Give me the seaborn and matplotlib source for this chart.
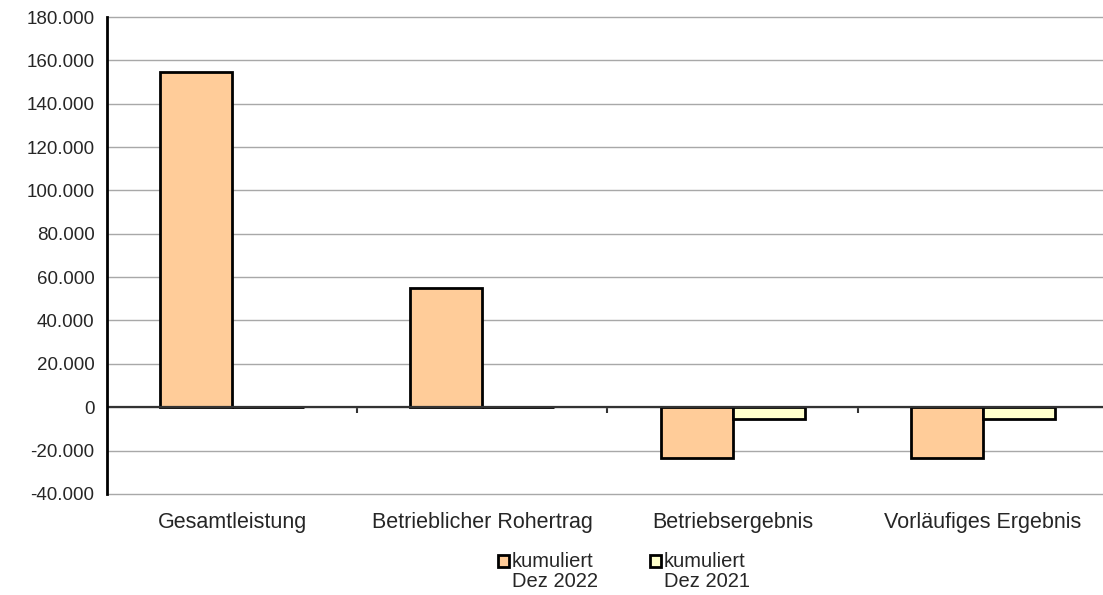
import matplotlib
matplotlib.use("Agg")
import matplotlib.pyplot as plt
from matplotlib.patches import Rectangle
from matplotlib.legend_handler import HandlerPatch
import seaborn as sns
import pandas as pd

categories = ["Gesamtleistung", "Betrieblicher Rohertrag", "Betriebsergebnis", "Vorläufiges Ergebnis"]
series_names = ["kumuliert\nDez 2022", "kumuliert\nDez 2021"]
values_2022 = [154800, 55000, -23400, -23400]
values_2021 = [0, 0, -5400, -5400]
y_ticks = list(range(-40000, 180001, 20000))

df = pd.DataFrame({
    "Kategorie": categories * 2,
    "Serie": [series_names[0]] * 4 + [series_names[1]] * 4,
    "Wert": values_2022 + values_2021,
})


class TopSquare(HandlerPatch):
    # legend square sits next to the first line of a two-line label
    def create_artists(self, legend, orig_handle, xdescent, ydescent,
                       width, height, fontsize, trans):
        p = Rectangle((-xdescent, -ydescent + 0.55 * fontsize), width, height)
        self.update_prop(p, orig_handle, legend)
        p.set_transform(trans)
        return [p]


sns.set_style("white")
plt.rcParams["font.family"] = ["Liberation Sans", "DejaVu Sans"]

fig = plt.figure(figsize=(11.03, 5.95), dpi=100)
ax = fig.add_axes([0.097, 0.170, 0.903, 0.8014])

sns.barplot(data=df, x="Kategorie", y="Wert", hue="Serie", hue_order=series_names,
            palette=["#FFCC99", "#FFFFCC"], saturation=1, edgecolor="black", linewidth=2,
            width=0.576, gap=0, ax=ax, legend=True)

ax.set_ylim(-40000, 180000)
ax.set_xlim(-0.5, 3.48)
ax.set_yticks(y_ticks)
ax.set_yticklabels([f"{v:,}".replace(",", ".") for v in y_ticks], fontsize=13.5)
ax.yaxis.grid(True, color="#a8a8a8", linewidth=1)
for gl in ax.get_ygridlines():
    gl.set_clip_on(False)
ax.set_axisbelow(True)
ax.set_xlabel("")
ax.set_ylabel("")

for s in ["top", "right", "bottom"]:
    ax.spines[s].set_visible(False)
ax.spines["left"].set_color("black")
ax.spines["left"].set_linewidth(2)
ax.tick_params(axis="y", direction="out", length=5, width=2, color="black", pad=4)
ax.tick_params(axis="x", length=0, labelsize=15.5, pad=13)
ax.axhline(0, color="#333333", linewidth=1.6, zorder=1.5)

# category boundary ticks on the zero line
sec = ax.secondary_xaxis(40000 / 220000)
sec.set_xticks([0.5, 1.5, 2.5])
sec.set_xticklabels([])
sec.spines["bottom"].set_visible(False)
sec.tick_params(axis="x", direction="out", length=4, width=1.5, color="#333333")

handles, labels = ax.get_legend_handles_labels()
ax.get_legend().remove()
leg = fig.legend(handles, labels, loc="upper left", bbox_to_anchor=(0.4445, 0.085),
                 ncol=2, frameon=False, fontsize=14.5, handlelength=0.55, handleheight=0.55,
                 handletextpad=0.12, columnspacing=2.6, borderaxespad=0,
                 handler_map={Rectangle: TopSquare()})
for t in leg.get_texts():
    t.set_linespacing(1.05)

fig.savefig("out.png", dpi=100)
